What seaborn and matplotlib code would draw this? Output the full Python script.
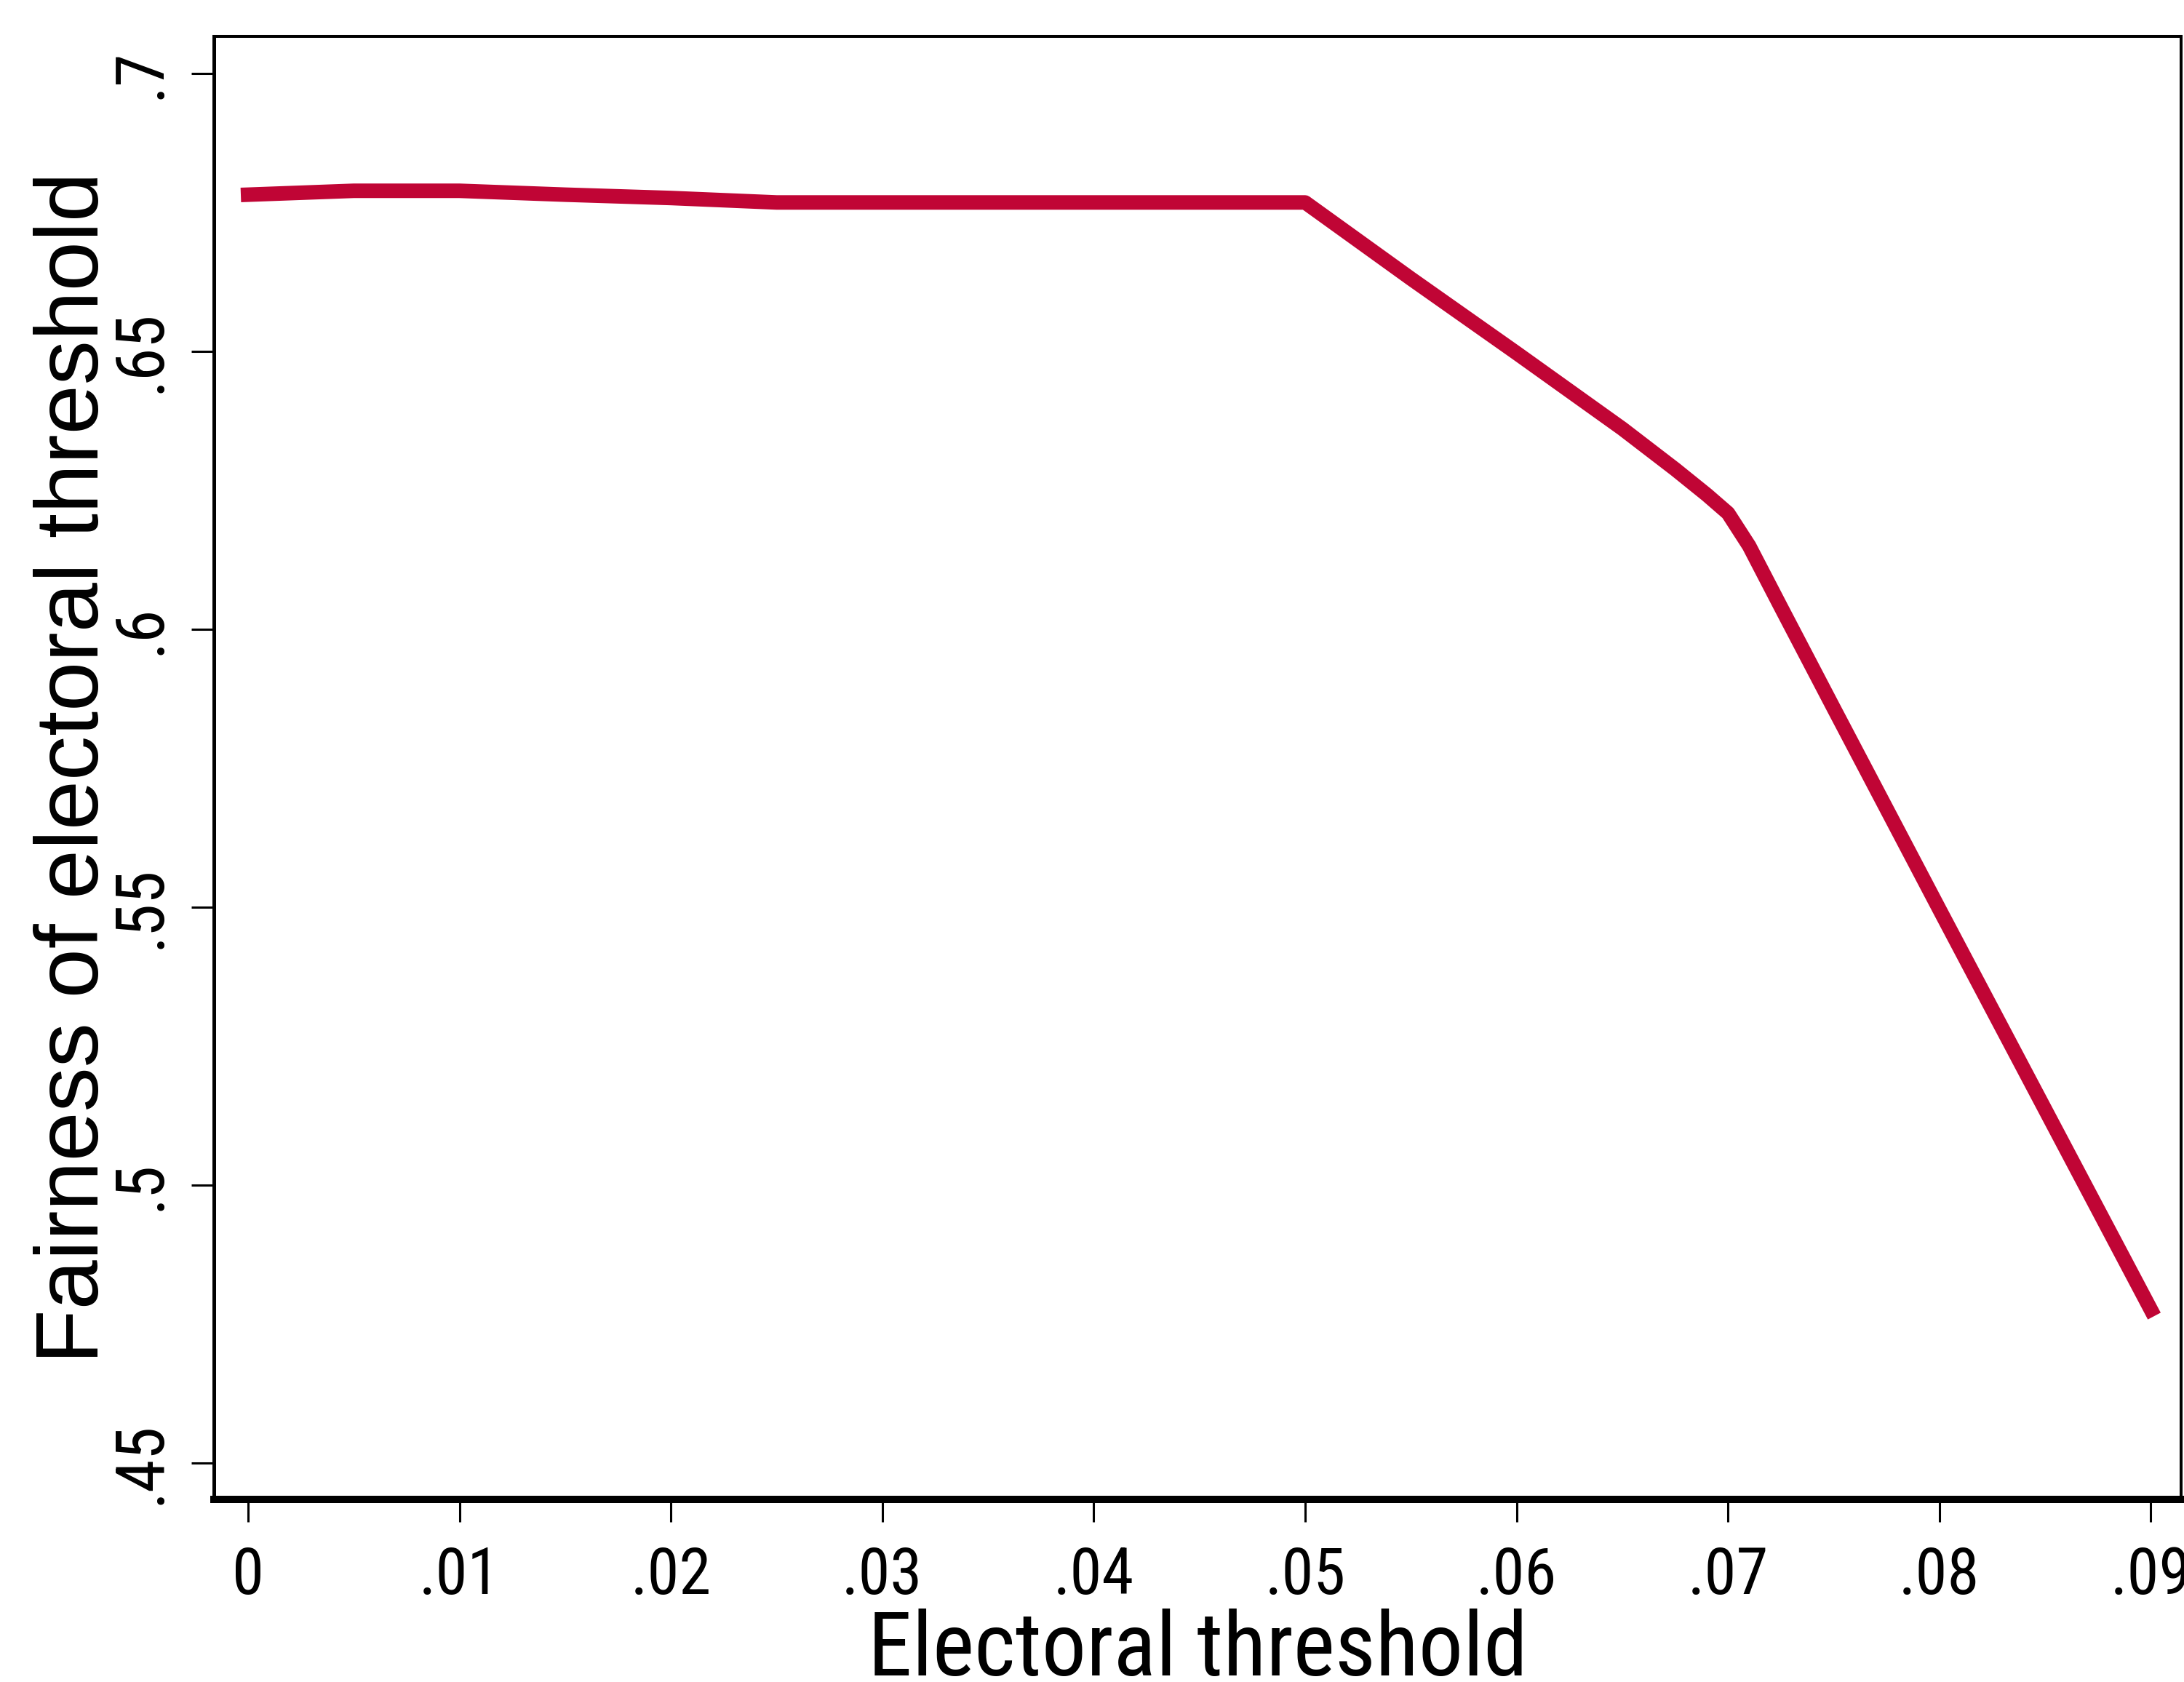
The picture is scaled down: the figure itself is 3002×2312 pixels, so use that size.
import matplotlib
matplotlib.use("Agg")
import matplotlib.pyplot as plt
from matplotlib import font_manager
from matplotlib.font_manager import FontProperties
import seaborn as sns
import pandas as pd

# values
threshold = [0.0, 0.005, 0.01, 0.015, 0.02, 0.025, 0.03, 0.035, 0.04, 0.045,
             0.05, 0.055, 0.06, 0.065, 0.0675, 0.069, 0.07, 0.071, 0.0725,
             0.075, 0.08, 0.085, 0.09]
fairness = [0.6782, 0.6789, 0.6789, 0.6782, 0.6776, 0.6768, 0.6768, 0.6768, 0.6768, 0.6768,
            0.6768, 0.6631, 0.6497, 0.6361, 0.6288, 0.6242, 0.6209, 0.6150, 0.6040,
            0.5858, 0.5496, 0.5136, 0.4776]

x_ticks = [0, 0.01, 0.02, 0.03, 0.04, 0.05, 0.06, 0.07, 0.08, 0.09]
x_tick_labels = ["0", ".01", ".02", ".03", ".04", ".05", ".06", ".07", ".08", ".09"]
y_ticks = [0.45, 0.5, 0.55, 0.6, 0.65, 0.7]
y_tick_labels = [".45", ".5", ".55", ".6", ".65", ".7"]

sns.set_style("white")
plt.rcParams["font.family"] = ["Liberation Sans", "DejaVu Sans"]


def find_condensed():
    # Stata draws a narrow sans; use a condensed face if one is installed
    prefs = ["Liberation Sans Narrow", "Arial Narrow", "Roboto Condensed",
             "Noto Sans", "Open Sans"]
    for name in prefs:
        for f in font_manager.fontManager.ttflist:
            if f.name != name or f.style != "normal" or f.weight not in (400, "normal", "regular"):
                continue
            if name in ("Noto Sans", "Open Sans") and "condensed" not in str(f.stretch):
                continue
            return f
    return None


narrow = find_condensed()
if narrow is not None:
    narrow_font = {"fname": narrow.fname}
    tick_size, xlab_size = 64, 88
else:
    narrow_font = {"family": ["Liberation Sans", "DejaVu Sans"]}
    tick_size, xlab_size = 55, 80

fig = plt.figure(figsize=(30.02, 23.12), dpi=100)
fig.patch.set_facecolor("white")
ax = fig.add_axes([0.09794, 0.10856, 0.90073, 0.86981])

df = pd.DataFrame({"threshold": threshold, "fairness": fairness})
sns.lineplot(data=df, x="threshold", y="fairness", color="#C00535",
             linewidth=14.4, solid_capstyle="projecting", ax=ax)

ax.set_xlim(-0.001617, 0.09143)
ax.set_ylim(0.44346, 0.70668)

ax.set_xticks(x_ticks)
ax.set_xticklabels(x_tick_labels)
ax.set_yticks(y_ticks)
ax.set_yticklabels(y_tick_labels)

ax.tick_params(axis="both", direction="out", length=22.3, width=2.2,
               color="black", labelcolor="black", pad=23,
               bottom=True, left=True)
ax.tick_params(axis="y", pad=18)
tick_fp = FontProperties(**narrow_font, size=tick_size)
for lbl in ax.get_xticklabels():
    lbl.set_fontproperties(tick_fp)
for lbl in ax.get_yticklabels():
    lbl.set_fontproperties(FontProperties(**narrow_font, size=tick_size + 2))
    lbl.set_rotation(90)
    lbl.set_va("center")

for side, lw in [("left", 3.6), ("bottom", 7.2), ("top", 2.9), ("right", 2.9)]:
    ax.spines[side].set_visible(True)
    ax.spines[side].set_color("black")
    ax.spines[side].set_linewidth(lw)

ax.set_xlabel("Electoral threshold", color="black",
              fontproperties=FontProperties(**narrow_font, size=xlab_size))
ax.set_ylabel("Fairness of electoral threshold", fontsize=88, color="black")
ax.xaxis.set_label_coords(0.5, -0.0746)
ax.yaxis.set_label_coords(-0.0496, 0.5)

fig.savefig("out.png", dpi=100, facecolor="white")
